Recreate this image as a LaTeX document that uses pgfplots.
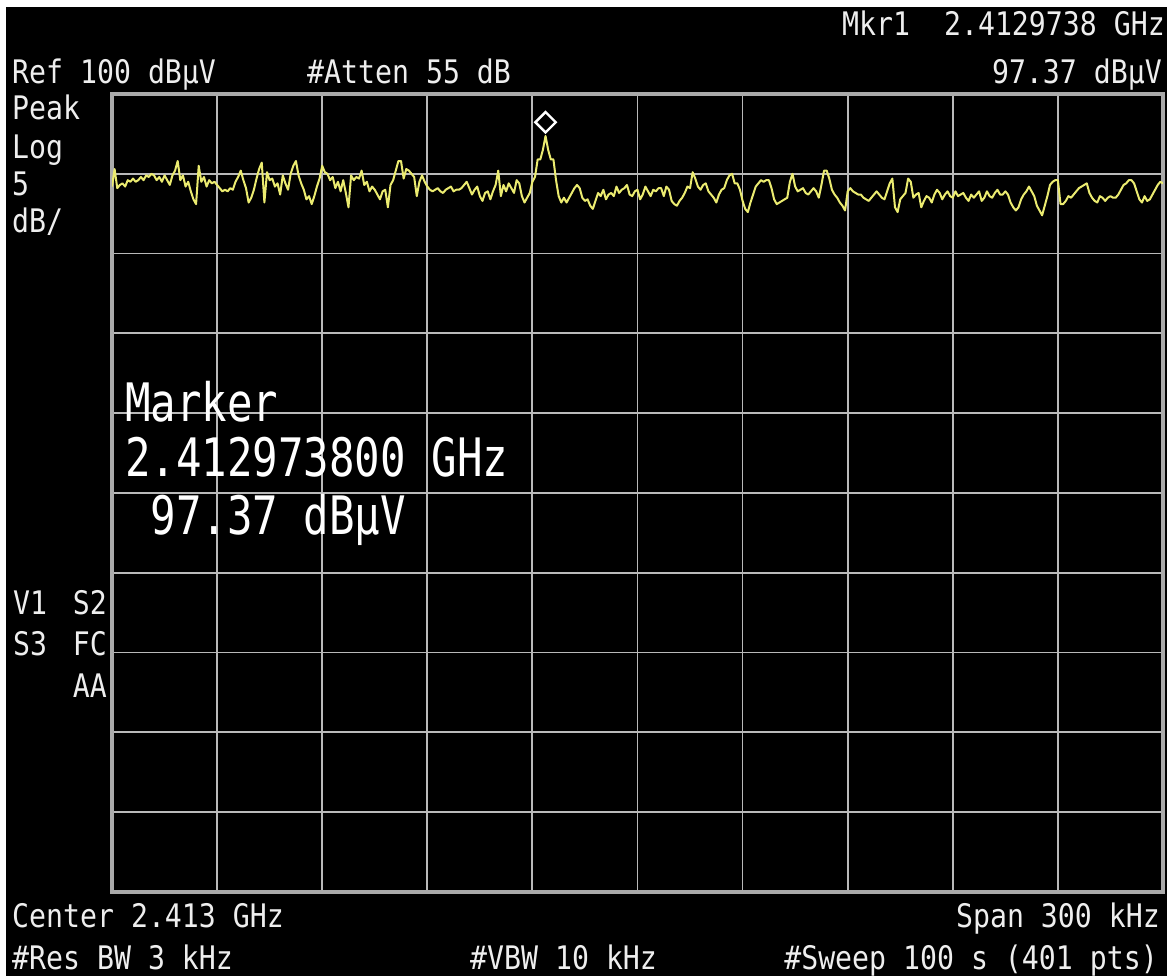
\documentclass[border=0pt]{standalone}
\usepackage{pgfplots}
\pgfplotsset{compat=1.18}
\usepackage{pgfplotstable}
\usepackage{fontspec}
\newfontfamily\mono{DejaVu Sans Mono}
\definecolor{gridgray}{RGB}{185,185,185}
\definecolor{bordergray}{RGB}{170,170,170}
\definecolor{trace}{RGB}{235,235,112}
\definecolor{txt}{RGB}{238,238,238}
\newcommand\sm[1]{\scalebox{1}[1.15]{\mono\fontsize{28.2}{30}\selectfont #1}}
\newcommand\bg[1]{\scalebox{1}[1.25]{\mono\fontsize{42.4}{46}\selectfont #1}}

\pgfplotstableread[row sep=\\]{db\\
94.2\\95.3\\94.1\\94.3\\94.4\\94.2\\94.6\\94.5\\94.7\\94.5\\
94.6\\94.8\\94.6\\94.9\\94.8\\95.0\\94.9\\94.6\\94.8\\94.5\\
94.9\\94.6\\94.3\\94.9\\95.2\\95.8\\94.6\\94.9\\94.2\\94.5\\
93.9\\93.4\\93.1\\95.5\\94.5\\94.8\\94.2\\94.6\\94.4\\94.5\\
94.3\\94.1\\93.9\\94.0\\93.9\\94.1\\94.0\\94.5\\94.8\\95.2\\
94.6\\94.1\\93.2\\93.5\\94.0\\94.7\\95.3\\95.7\\93.2\\95.1\\
94.6\\94.7\\94.2\\94.4\\93.7\\94.9\\94.4\\94.0\\95.0\\95.5\\
95.8\\94.9\\94.4\\94.0\\93.4\\93.6\\93.1\\93.6\\94.2\\94.7\\
95.5\\95.1\\95.0\\94.6\\94.8\\94.1\\94.5\\93.9\\94.6\\93.8\\
92.9\\94.9\\94.6\\94.8\\94.7\\95.2\\94.3\\94.5\\93.9\\94.2\\
94.0\\93.7\\93.4\\93.9\\94.0\\92.9\\94.3\\94.6\\95.2\\95.8\\
95.8\\94.7\\95.3\\95.2\\95.0\\94.8\\93.6\\94.5\\94.9\\94.5\\
94.2\\94.0\\93.9\\94.0\\94.1\\93.9\\93.8\\94.0\\94.1\\94.2\\
93.9\\94.0\\94.0\\94.1\\94.3\\94.5\\94.1\\93.7\\94.0\\94.2\\
93.6\\93.3\\93.8\\93.9\\93.4\\93.9\\94.3\\95.2\\93.6\\94.3\\
93.9\\94.4\\94.1\\93.8\\94.6\\94.4\\93.6\\93.2\\93.5\\93.8\\
94.5\\94.8\\95.9\\95.9\\96.5\\97.37\\96.5\\95.9\\95.9\\94.6\\
93.6\\93.2\\93.5\\93.2\\93.5\\93.8\\94.1\\94.3\\94.1\\93.5\\
93.3\\93.4\\93.0\\92.8\\93.3\\93.8\\93.6\\94.0\\93.4\\93.7\\
93.8\\93.6\\94.2\\93.8\\94.0\\94.1\\94.3\\93.7\\93.6\\93.9\\
94.0\\93.4\\93.7\\94.2\\93.9\\93.6\\94.0\\93.9\\94.1\\94.1\\
93.6\\94.2\\94.0\\93.3\\93.1\\93.0\\93.3\\93.5\\93.8\\94.2\\
94.1\\95.1\\94.7\\94.2\\94.0\\94.3\\94.4\\93.9\\93.7\\93.5\\
93.2\\93.7\\94.0\\94.1\\94.6\\94.9\\95.0\\94.4\\94.4\\94.0\\
93.3\\92.8\\92.6\\93.2\\93.7\\94.2\\94.4\\94.6\\94.5\\94.6\\
94.6\\94.1\\93.4\\93.1\\93.2\\93.3\\93.4\\93.5\\94.5\\95.0\\
94.2\\93.9\\94.0\\94.1\\93.8\\93.7\\93.9\\94.1\\93.9\\93.5\\
94.3\\95.2\\95.2\\94.7\\94.0\\93.7\\93.5\\93.2\\93.0\\92.7\\
93.9\\94.1\\93.9\\93.8\\93.7\\93.7\\93.5\\93.4\\93.3\\93.5\\
93.7\\93.9\\93.7\\93.5\\93.4\\93.9\\94.4\\94.7\\92.9\\92.6\\
93.4\\93.6\\93.8\\94.7\\94.5\\93.5\\93.7\\93.8\\92.9\\93.3\\
93.6\\93.5\\93.2\\93.7\\94.0\\93.8\\93.4\\93.7\\93.9\\93.6\\
93.5\\93.9\\93.6\\93.7\\93.8\\93.5\\93.3\\93.7\\93.5\\93.7\\
93.9\\93.3\\93.5\\93.9\\93.6\\93.5\\93.8\\94.0\\93.7\\93.7\\
93.9\\93.7\\93.2\\92.9\\92.7\\92.9\\93.4\\93.7\\93.9\\94.2\\
93.9\\93.6\\93.0\\92.7\\92.4\\93.0\\93.6\\94.3\\94.5\\94.6\\
94.6\\93.1\\93.1\\93.3\\93.6\\93.5\\93.7\\93.9\\94.1\\94.2\\
94.3\\94.4\\93.8\\93.5\\93.3\\93.2\\93.6\\93.5\\93.3\\93.5\\
93.6\\93.5\\93.5\\93.7\\94.0\\94.3\\94.4\\94.6\\94.6\\94.4\\
93.9\\93.4\\93.2\\93.6\\93.3\\93.4\\93.7\\94.0\\94.3\\94.5\\
94.4\\
}\tracedata

\begin{document}
\begin{tikzpicture}[x=1pt,y=1pt]
\path[use as bounding box] (0,0) rectangle (1167,976);
\fill[white] (0,0) rectangle (1167,976);
\fill[black] (6,0) rectangle (1167,969);
\begin{axis}[
  at={(112pt,84pt)}, anchor=south west,
  width=1051pt, height=798pt, scale only axis,
  xmin=-150, xmax=150, ymin=50, ymax=100,
  axis background/.style={fill=black},
  axis line style={draw=bordergray, line width=3.5pt},
  grid=major, grid style={draw=gridgray, line width=1.8pt},
  xtick={-120,-90,...,120}, ytick={55,60,...,95},
  xticklabels={}, yticklabels={},
  major tick length=0pt, tick style={draw=none},
  clip marker paths=false,
]
\addplot[trace, line width=2pt, no marks, line join=round]
  table[x expr={\coordindex*0.75-150}, y=db] {\tracedata};
\addplot[draw=none, mark=square, mark size=7.2pt,
  mark options={draw=white, line width=2.4pt, fill=none, yshift=13.7pt, rotate=45}]
  coordinates {(-26.25,97.37)};
\end{axis}
\begin{scope}[every node/.style={inner sep=0pt, text=txt}]
\node[anchor=base west] at (12,892) {\sm{Ref 100 dBµV}};
\node[anchor=base west] at (307,892) {\sm{\#Atten 55 dB}};
\node[anchor=base east] at (1162,892) {\sm{97.37 dBµV}};
\node[anchor=base east] at (1165,940) {\sm{Mkr1\ \ 2.4129738 GHz}};
\node[anchor=base west] at (12,856) {\sm{Peak}};
\node[anchor=base west] at (12,817) {\sm{Log}};
\node[anchor=base west] at (12,780) {\sm{5}};
\node[anchor=base west] at (12,743) {\sm{dB/}};
\node[anchor=base west] at (13,361) {\sm{V1}};
\node[anchor=base east] at (107,361) {\sm{S2}};
\node[anchor=base west] at (13,320) {\sm{S3}};
\node[anchor=base east] at (107,320) {\sm{FC}};
\node[anchor=base east] at (107,278) {\sm{AA}};
\node[anchor=base west] at (12,48) {\sm{Center 2.413 GHz}};
\node[anchor=base east] at (1160,48) {\sm{Span 300 kHz}};
\node[anchor=base west] at (12,6) {\sm{\#Res BW 3 kHz}};
\node[anchor=base west] at (470,6) {\sm{\#VBW 10 kHz}};
\node[anchor=base east] at (1158,6) {\sm{\#Sweep 100 s (401 pts)}};
\node[anchor=base west, text=white] at (125,554) {\bg{Marker}};
\node[anchor=base west, text=white] at (125,499) {\bg{2.412973800 GHz}};
\node[anchor=base west, text=white] at (125,441) {\bg{\phantom{0}97.37 dBµV}};
\end{scope}
\end{tikzpicture}
\end{document}
